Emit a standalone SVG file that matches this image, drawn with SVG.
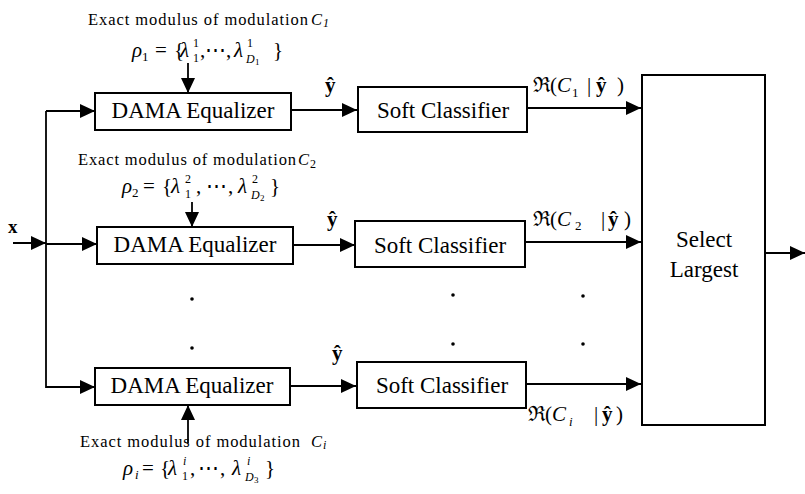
<svg xmlns="http://www.w3.org/2000/svg" width="805" height="494" viewBox="0 0 805 494">
<defs>
<style>
.box{fill:#fff;stroke:#000;stroke-width:2}
.ln{fill:none;stroke:#000;stroke-width:1.8}
.it{font-style:italic}
.b{font-weight:bold}
</style>
<marker id="ah" markerUnits="userSpaceOnUse" markerWidth="16" markerHeight="14" refX="15" refY="7" orient="auto">
<path d="M0,0 L15,7 L0,14 Z" fill="#000"/>
</marker>
</defs>
<rect width="805" height="494" fill="#fff"/>

<g id="connectors">
<line class="ln" x1="13" y1="243" x2="46" y2="243" marker-end="url(#ah)"/>
<polyline class="ln" points="46,111 46,388"/>
<line class="ln" x1="46" y1="111" x2="95" y2="111" marker-end="url(#ah)"/>
<line class="ln" x1="46" y1="244" x2="97" y2="244" marker-end="url(#ah)"/>
<line class="ln" x1="46" y1="387" x2="95" y2="387" marker-end="url(#ah)"/>
<line class="ln" x1="291" y1="110" x2="357" y2="110" marker-end="url(#ah)"/>
<line class="ln" x1="293" y1="245" x2="355" y2="245" marker-end="url(#ah)"/>
<line class="ln" x1="290" y1="386" x2="356" y2="386" marker-end="url(#ah)"/>
<line class="ln" x1="527" y1="108" x2="641" y2="108" marker-end="url(#ah)"/>
<line class="ln" x1="525" y1="242" x2="641" y2="242" marker-end="url(#ah)"/>
<line class="ln" x1="526" y1="384" x2="641" y2="384" marker-end="url(#ah)"/>
<line class="ln" x1="765" y1="253" x2="805" y2="253" marker-end="url(#ah)"/>
<line class="ln" x1="188" y1="63" x2="188" y2="93" marker-end="url(#ah)"/>
<line class="ln" x1="192" y1="202" x2="192" y2="227" marker-end="url(#ah)"/>
<line class="ln" x1="188" y1="443" x2="188" y2="405" marker-end="url(#ah)"/>
</g>

<g id="dama1"><rect class="box" x="95" y="93" width="196" height="37"/><text font-family="Liberation Serif" font-size="23" x="193" y="118" text-anchor="middle">DAMA Equalizer</text></g>
<g id="dama2"><rect class="box" x="97" y="227" width="196" height="37"/><text font-family="Liberation Serif" font-size="23" x="195" y="252" text-anchor="middle">DAMA Equalizer</text></g>
<g id="dama3"><rect class="box" x="95" y="368" width="195" height="37"/><text font-family="Liberation Serif" font-size="23" x="192" y="393" text-anchor="middle">DAMA Equalizer</text></g>

<g id="soft1"><rect class="box" x="358" y="87" width="169" height="45"/><text font-family="Liberation Serif" font-size="23" x="443" y="118" text-anchor="middle">Soft Classifier</text></g>
<g id="soft2"><rect class="box" x="355" y="221" width="170" height="46"/><text font-family="Liberation Serif" font-size="23" x="440" y="253" text-anchor="middle">Soft Classifier</text></g>
<g id="soft3"><rect class="box" x="357" y="362" width="169" height="46"/><text font-family="Liberation Serif" font-size="23" x="442" y="393" text-anchor="middle">Soft Classifier</text></g>

<g id="select"><rect class="box" x="642" y="75" width="123" height="350"/><text font-family="Liberation Serif" font-size="23" x="704" y="247" text-anchor="middle">Select</text><text font-family="Liberation Serif" font-size="23" x="704" y="277" text-anchor="middle">Largest</text></g>

<g id="labels">
<text font-family="Liberation Serif" font-size="19" font-weight="bold" x="8" y="233">x</text>
<text font-family="Liberation Serif" font-size="21" font-weight="bold" x="325" y="92">ŷ</text>
<text font-family="Liberation Serif" font-size="21" font-weight="bold" x="327" y="226">ŷ</text>
<text font-family="Liberation Serif" font-size="21" font-weight="bold" x="332" y="360">ŷ</text>

<text font-family="Liberation Serif" font-size="16.5" x="88" y="25"><tspan textLength="220" lengthAdjust="spacing">Exact modulus of modulation</tspan><tspan class="it" x="311">C</tspan><tspan class="it" font-size="12" x="323" y="27">1</tspan></text>
<text font-family="Liberation Serif, DejaVu Serif, serif" font-size="21" y="57"><tspan class="it" x="132">ρ</tspan><tspan font-size="13" x="142" y="61">1</tspan><tspan x="155" y="57">=</tspan><tspan x="174" y="57">{</tspan><tspan class="it" x="180" y="57">λ</tspan><tspan font-size="12" x="193" y="47">1</tspan><tspan font-size="12" x="193" y="62">1</tspan><tspan x="200" y="57">,</tspan><tspan x="205" y="57">⋯</tspan><tspan x="226" y="57">,</tspan><tspan class="it" x="234" y="57">λ</tspan><tspan font-size="12" x="247" y="47">1</tspan><tspan class="it" font-size="12" x="246" y="63">D</tspan><tspan font-size="9" x="255" y="65">1</tspan><tspan x="273" y="57">}</tspan></text>

<text font-family="Liberation Serif" font-size="16.5" x="78" y="165"><tspan textLength="218" lengthAdjust="spacing">Exact modulus of modulation</tspan><tspan class="it" x="298">C</tspan><tspan font-size="12" x="310" y="168">2</tspan></text>
<text font-family="Liberation Serif, DejaVu Serif, serif" font-size="21" y="193"><tspan class="it" x="122">ρ</tspan><tspan font-size="13" x="132" y="197">2</tspan><tspan x="143" y="193">=</tspan><tspan x="162" y="193">{</tspan><tspan class="it" x="171" y="193">λ</tspan><tspan font-size="12" x="185" y="183">2</tspan><tspan font-size="12" x="185" y="198">1</tspan><tspan x="196" y="193">,</tspan><tspan x="206" y="193">⋯</tspan><tspan x="228" y="193">,</tspan><tspan class="it" x="238" y="193">λ</tspan><tspan font-size="12" x="252" y="183">2</tspan><tspan class="it" font-size="12" x="251" y="199">D</tspan><tspan font-size="9" x="260" y="201">2</tspan><tspan x="270" y="193">}</tspan></text>

<text font-family="Liberation Serif" font-size="16.5" x="80" y="447"><tspan textLength="220" lengthAdjust="spacing">Exact modulus of modulation</tspan><tspan class="it" x="311">C</tspan><tspan class="it" font-size="12" x="323" y="449">i</tspan></text>
<text font-family="Liberation Serif, DejaVu Serif, serif" font-size="21" y="475"><tspan class="it" x="123">ρ</tspan><tspan class="it" font-size="13" x="135" y="479">i</tspan><tspan x="142" y="475">=</tspan><tspan x="160" y="475">{</tspan><tspan class="it" x="168" y="475">λ</tspan><tspan class="it" font-size="12" x="183" y="465">i</tspan><tspan font-size="12" x="182" y="480">1</tspan><tspan x="190" y="475">,</tspan><tspan x="198" y="475">⋯</tspan><tspan x="220" y="475">,</tspan><tspan class="it" x="232" y="475">λ</tspan><tspan class="it" font-size="12" x="247" y="465">i</tspan><tspan class="it" font-size="12" x="245" y="481">D</tspan><tspan font-size="9" x="254" y="483">3</tspan><tspan x="265" y="475">}</tspan></text>

<text font-family="Liberation Serif, DejaVu Serif, serif" font-size="21" y="92"><tspan x="533">ℜ</tspan><tspan x="550">(</tspan><tspan class="it" x="557">C</tspan><tspan font-size="13" x="572" y="97">1</tspan><tspan x="587" y="92">|</tspan><tspan class="b" x="596">ŷ</tspan><tspan x="617">)</tspan></text>
<text font-family="Liberation Serif, DejaVu Serif, serif" font-size="21" y="226"><tspan x="533">ℜ</tspan><tspan x="550">(</tspan><tspan class="it" x="557">C</tspan><tspan font-size="13" x="575" y="230">2</tspan><tspan x="601" y="226">|</tspan><tspan class="b" x="608">ŷ</tspan><tspan x="624">)</tspan></text>
<text font-family="Liberation Serif, DejaVu Serif, serif" font-size="21" y="421"><tspan x="528">ℜ</tspan><tspan x="545">(</tspan><tspan class="it" x="552">C</tspan><tspan class="it" font-size="13" x="569" y="426">i</tspan><tspan x="594" y="421">|</tspan><tspan class="b" x="602">ŷ</tspan><tspan x="616">)</tspan></text>
</g>

<g id="dots" fill="#000">
<circle cx="192" cy="299" r="1.8"/><circle cx="192" cy="348" r="1.8"/>
<circle cx="453" cy="295" r="1.8"/><circle cx="453" cy="344" r="1.8"/>
<circle cx="583" cy="296" r="1.8"/><circle cx="583" cy="344" r="1.8"/>
</g>
</svg>
